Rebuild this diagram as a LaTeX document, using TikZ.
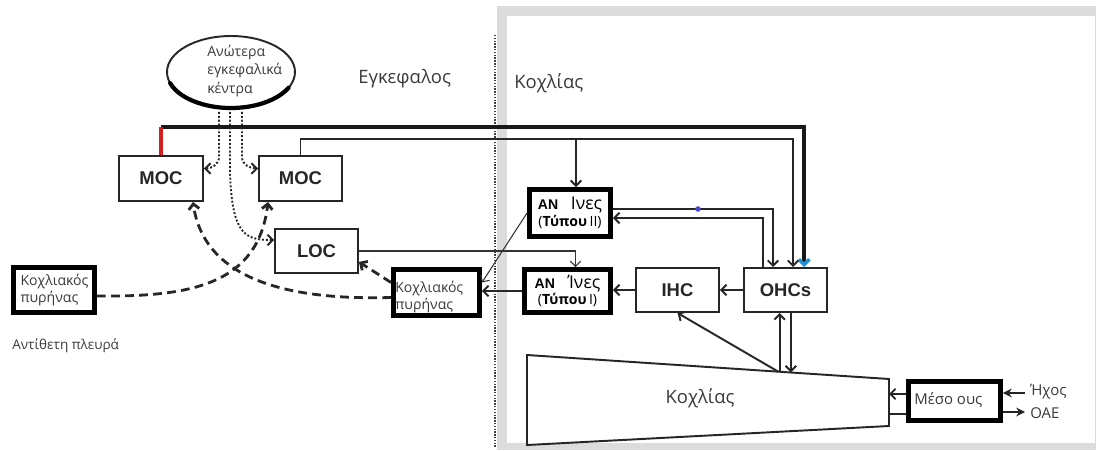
\documentclass[tikz,border=0pt]{standalone}
\usepackage{fontspec}
\setmainfont{Open Sans}
\newfontfamily\arialf{Liberation Sans}
\usetikzlibrary{arrows.meta,calc,shapes.geometric}
\definecolor{framegray}{HTML}{DCDCDC}
\definecolor{txtgray}{HTML}{3A3A3A}
\definecolor{redline}{HTML}{D42020}
\definecolor{bluetip}{HTML}{1E8FD0}
\definecolor{bluedot}{HTML}{4848D0}
\begin{document}
\begin{tikzpicture}[x=0.02cm,y=-0.02cm,
  txt/.style={text=txtgray, inner sep=0},
  box/.style={draw=black!85, line width=1.1pt, fill=white, inner sep=0,
    font=\arialf\bfseries\fontsize{10.5}{12}\selectfont, text=black!85},
  tbox/.style={draw=black, line width=2.8pt, fill=white, inner sep=0},
  wire/.style={draw=black!85, line width=1.1pt},
  thinwire/.style={draw=black!80, line width=0.6pt},
  arr/.style={-{Straight Barb[length=3pt,width=6pt]}},
  dsh/.style={draw=black!85, line width=1.6pt, dash pattern=on 5pt off 3pt},
  dtt/.style={draw=black!85, line width=1.1pt, dash pattern=on 1.1pt off 1.1pt},
  cntext/.style={txt, align=left, font=\fontsize{8}{10}\selectfont},
  anftext/.style={align=center, font=\fontsize{8}{9.6}\selectfont}
]
\useasboundingbox (0,0) rectangle (1096,450);
% frame
\fill[framegray] (497,6) rectangle (1096,450);
\fill[white] (507,16) rectangle (1095,443);
\draw[black!75, line width=0.8pt, dash pattern=on 0.8pt off 0.8pt] (495,35) -- (495,448);

% titles
\node[txt, anchor=base west, font=\fontsize{10.5}{12}\selectfont] (brain) at (358,83) {Εγκεφαλος};
\node[txt, anchor=base west, font=\fontsize{10.5}{12}\selectfont] (cochtop) at (514,88) {Κοχλίας};
\node[txt, anchor=west, font=\fontsize{7.7}{10}\selectfont] (contra) at (12,346) {Αντίθετη πλευρά};

% higher centres
\node[draw=black!85, ellipse, line width=1.1pt, minimum width=2.56cm, minimum height=1.44cm, inner sep=0] (ell) at (231,72) {};
\draw[black, line width=2.4pt, line cap=round] ([shift={(198:1.28cm and 0.72cm)}]ell.center) arc[start angle=198, end angle=334, x radius=1.28cm, y radius=0.72cm];
\node[txt, anchor=west, align=left, text width=1.6cm, font=\fontsize{8}{10.5}\selectfont] (ellt) at (207,71) {Ανώτερα\\εγκεφαλικά\\κέντρα};

% boxes
\node[box, minimum width=1.68cm, minimum height=0.90cm] (mocL) at (161,178.5) {MOC};
\node[box, minimum width=1.66cm, minimum height=0.90cm] (mocR) at (300.5,178.5) {MOC};
\node[box, minimum width=1.66cm, minimum height=0.88cm] (loc) at (316.5,251) {LOC};
\node[box, minimum width=1.66cm, minimum height=0.88cm] (ihc) at (677.5,290) {IHC};
\node[box, minimum width=1.66cm, minimum height=0.88cm] (ohcs) at (785.5,290) {OHCs};
\node[tbox, cntext, text width=1.34cm, minimum width=1.62cm, minimum height=0.90cm] (cnL) at (54,290) {Κοχλιακός\\πυρήνας};
\node[tbox, minimum width=1.72cm, minimum height=0.92cm] (cnR) at (436.5,292.5) {};
\node[cntext, anchor=west, text width=1.5cm] (cnRt) at (395,297) {Κοχλιακός\\πυρήνας};
\node[tbox, anftext, minimum width=1.62cm, minimum height=0.94cm] (anf2) at (570,213)
  {{\arialf\bfseries AN}\hspace{0.9em}{\fontsize{10}{10}\selectfont Ινες}\\(\textbf{Τύπου}\,II)};
\node[tbox, anftext, minimum width=1.72cm, minimum height=0.86cm] (anf1) at (567.5,291)
  {{\arialf\bfseries AN}\hspace{0.9em}{\fontsize{10}{10}\selectfont Ίνες}\\(\textbf{Τύπου}\,I)};
\node[tbox, minimum width=1.84cm, minimum height=0.78cm] (meso) at (954.5,401) {};
\node[txt, anchor=west, font=\fontsize{8.5}{10}\selectfont] (mesot) at (914,400) {Μέσο ους};

% cochlea
\coordinate (cTL) at (527,355);
\coordinate (cTR) at (889,379);
\coordinate (cBR) at (889,426);
\coordinate (cBL) at (527,445);
\draw[wire, fill=white] (cTL) -- (cTR) -- (cBR) -- (cBL) -- cycle;
\node[txt, font=\fontsize{10.5}{12}\selectfont] (cocht) at (700,398) {Κοχλίας};

% top efferent lines
\coordinate (ytop) at (0,127);
\coordinate (y2) at (0,139);
\draw[black!90, line width=2pt, -{Straight Barb[color=bluetip,length=3pt,width=6pt]}]
  (mocL.north |- ytop) -| ($(ohcs.north west)+(61,0)$);
\draw[redline, line width=2.2pt] (mocL.north) -- (mocL.north |- ytop);
\draw[wire, arr] (mocR.north) -- (mocR.north |- y2) -| ($(ohcs.north west)+(50,0)$);
\coordinate (b2) at ($(anf2.north)+(6,0)$);
\draw[wire, arr] (b2 |- y2) -- (b2);
\coordinate (a2r1) at ($(anf2.east)+(0,-4)$);
\coordinate (a2r2) at ($(anf2.east)+(0,5)$);
\draw[wire, arr] (a2r1) -| ($(ohcs.north west)+(30,0)$);
\draw[wire, arr] ($(ohcs.north west)+(20,0)$) |- (a2r2);
\coordinate (dotx) at (698,0);
\fill[bluedot] (dotx |- a2r1) circle (1.6pt);

% LOC and afferents
\draw[thinwire, arr] (loc.east) -| ($(anf1.north)+(8,0)$);
\draw[thinwire, arr] (anf2.west) -- ($(cnR.east)+(0,-10)$);
\draw[wire, arr] (anf1.west) -- (anf1.west -| cnR.east);
\draw[wire, arr] (ihc.west) -- (ihc.west -| anf1.east);
\draw[wire, arr] (ohcs.west) -- (ihc.east);

% cochlea links
\coordinate (c0) at ($(cTL)!0.694!(cTR)$);
\coordinate (c1) at ($(cTL)!0.698!(cTR)$);
\coordinate (c2) at ($(cTL)!0.729!(cTR)$);
\draw[wire, arr] (c0) -- (ihc.south);
\draw[wire, arr] (c1) -- (c1 |- ohcs.south);
\draw[wire, arr] (c2 |- ohcs.south) -- (c2);

% middle ear
\coordinate (m1) at ($(meso.west)+(0,-7)$);
\coordinate (m2) at ($(meso.west)+(0,13)$);
\draw[wire, arr] (m1) -- (m1 -| cTR);
\draw[wire] (m2 -| cTR) -- (m2);
\coordinate (hx) at (1025,393);
\coordinate (oa) at (1025,412);
\draw[wire, -{Stealth[length=5pt,width=5pt]}] (hx) -- (hx -| meso.east);
\draw[wire, -{Stealth[length=5pt,width=5pt]}] (oa -| meso.east) -- (oa);
\node[txt, anchor=west, font=\fontsize{8.5}{10}\selectfont] (hxt) at (1030,392) {Ήχος};
\node[txt, anchor=west, font=\fontsize{8.5}{10}\selectfont] (oat) at (1030,413) {OAE};

% dashed crossed pathways
\draw[dsh, arr] ($(cnL.east)+(0,6)$) .. controls (190,297) and (258,285) .. ($(mocR.south west)+(10,0)$);
\draw[dsh, arr] ($(cnR.west)+(0,5)$) .. controls (300,300) and (205,285) .. ($(mocL.south east)+(-11,0)$);
\draw[dsh, arr] ($(cnR.west)+(0,-10)$) -- ($(loc.south east)+(0,-12)$);

% dotted descending pathways
\coordinate (e1) at ($(ell.south)+(-12,3)$);
\coordinate (e2) at ($(ell.south)+(-1,3)$);
\coordinate (e3) at ($(ell.south)+(11,3)$);
\draw[dtt, arr] (e1) -- ++(0,45) to[out=-90,in=0] ($(mocL.east)+(0,-10)$);
\draw[dtt, arr] (e3) -- ++(0,45) to[out=-90,in=180] ($(mocR.west)+(0,-10)$);
\draw[dtt, arr] (e2) -- ++(0,60) .. controls (232,235) and (245,240) .. ($(loc.west)+(0,-11)$);
\end{tikzpicture}
\end{document}
